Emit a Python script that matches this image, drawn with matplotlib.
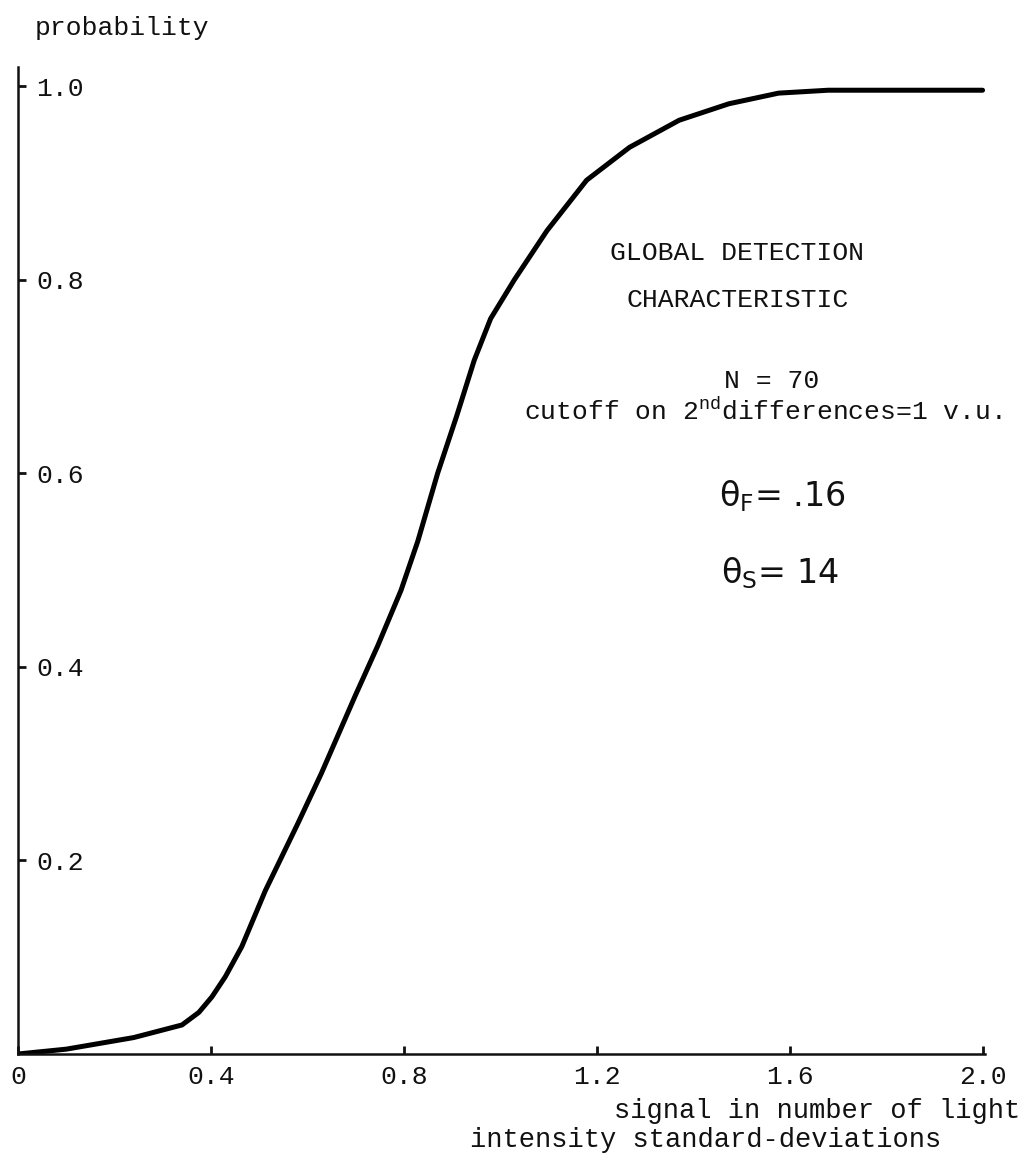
import matplotlib
matplotlib.use("Agg")
import matplotlib.pyplot as plt

# courbe
signal = [0, 0.10, 0.24, 0.34, 0.375, 0.402, 0.43, 0.464, 0.513, 0.581,
          0.629, 0.664, 0.699, 0.746, 0.794, 0.829, 0.870, 0.91, 0.946, 0.98,
          1.029, 1.097, 1.179, 1.268, 1.371, 1.474, 1.577, 1.68, 2.0]
probability = [0, 0.005, 0.017, 0.030, 0.043, 0.059, 0.08, 0.111, 0.169, 0.239,
               0.290, 0.33, 0.37, 0.422, 0.479, 0.53, 0.60, 0.66, 0.717, 0.76,
               0.800, 0.851, 0.903, 0.937, 0.965, 0.982, 0.993, 0.996, 0.996]

xticks = [0, 0.4, 0.8, 1.2, 1.6, 2.0]
xtick_labels = ["0", "0.4", "0.8", "1.2", "1.6", "2.0"]
yticks = [0.2, 0.4, 0.6, 0.8, 1.0]
ytick_labels = ["0.2", "0.4", "0.6", "0.8", "1.0"]

plt.rcParams["font.family"] = "Liberation Mono"
plt.rcParams["mathtext.fontset"] = "custom"
plt.rcParams["mathtext.rm"] = "Liberation Mono"
plt.rcParams["mathtext.sf"] = "DejaVu Sans"
ink = "#111111"
fs = 19

W, H = 1029, 1160
fig = plt.figure(figsize=(W / 100, H / 100), dpi=100)
left, right, bottom, top = 18, 985, 1054, 67
ax = fig.add_axes([left / W, 1 - bottom / H, (right - left) / W, (bottom - top) / H])

ax.plot(signal, probability, color="black", lw=3.6,
        solid_capstyle="round", solid_joinstyle="round")

ax.set_xlim(0, 2.005)
ax.set_ylim(0, 1.02)
for s in ["top", "right"]:
    ax.spines[s].set_visible(False)
for s in ["left", "bottom"]:
    ax.spines[s].set_linewidth(1.8)
    ax.spines[s].set_color(ink)

ax.set_xticks(xticks)
ax.set_xticklabels(xtick_labels)
ax.set_yticks(yticks)
ax.set_yticklabels(ytick_labels, ha="left")
ax.tick_params(axis="x", direction="in", length=6, width=2, pad=8,
               labelsize=fs, colors=ink)
ax.tick_params(axis="y", direction="in", length=6, width=2, pad=-13,
               labelsize=fs, colors=ink)

# textes dans le graphique
ax.text(1.49, 0.828, "GLOBAL DETECTION", ha="center", va="center", fontsize=fs, color=ink)
ax.text(1.493, 0.779, "CHARACTERISTIC", ha="center", va="center", fontsize=fs, color=ink)
ax.text(1.563, 0.696, "N = 70", ha="center", va="center", fontsize=fs, color=ink)
ax.text(1.049, 0.655, r"cutoff on 2$^{\mathrm{nd}}$differences=1 v.u.",
        ha="left", va="baseline", fontsize=fs, color=ink)
ax.text(1.584, 0.577, r"θ$_\mathsf{F}$= .16", ha="center", va="center",
        fontsize=24, family="DejaVu Sans", color=ink)
ax.text(1.58, 0.497, r"θ$_\mathsf{S}$= 14", ha="center", va="center",
        fontsize=24, family="DejaVu Sans", color=ink)

# titres des axes
fig.text(35 / W, 1 - 28 / H, "probability", ha="left", va="center", fontsize=fs, color=ink)
fig.text(1020 / W, 1 - 1111 / H, "signal in number of light", ha="right", va="center",
         fontsize=19.5, color=ink)
fig.text(470 / W, 1 - 1140 / H, "intensity standard-deviations", ha="left", va="center",
         fontsize=19.5, color=ink)

fig.savefig("out.png", dpi=100, facecolor="white")
